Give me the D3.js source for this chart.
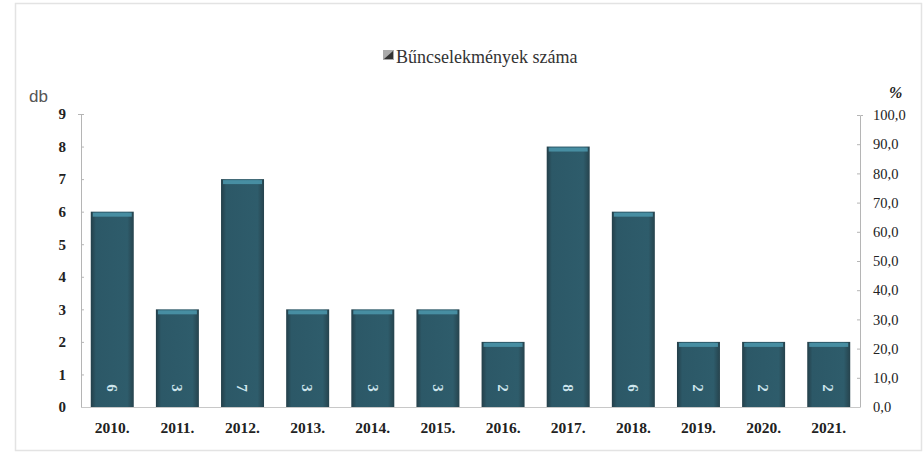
<!DOCTYPE html>
<html><head><meta charset="utf-8">
<script src="https://cdn.jsdelivr.net/npm/d3@7/dist/d3.min.js"></script>
<style>body{margin:0;background:#fff}svg{display:block}</style>
</head><body><svg id="c" width="924" height="454"></svg>
<script>
const categories = ["2010.","2011.","2012.","2013.","2014.","2015.","2016.","2017.","2018.","2019.","2020.","2021."];
const values = [6,3,7,3,3,3,2,8,6,2,2,2];
const leftTicks = [0,1,2,3,4,5,6,7,8,9];
const rightTicks = [0,10,20,30,40,50,60,70,80,90,100];
const seriesName = "Bűncselekmények száma";

const svg = d3.select("#c");
const serif = "'Liberation Serif','Times New Roman',serif";

// frame
svg.append("rect").attr("x",15.5).attr("y",3.5).attr("width",906).attr("height",447)
  .attr("fill","none").attr("stroke","#e3e3e3").attr("stroke-width",1.5);

const defs = svg.append("defs");
const g = defs.append("linearGradient").attr("id","bg").attr("x1",0).attr("x2",1);
g.append("stop").attr("offset","0%").attr("stop-color","#243f49");
g.append("stop").attr("offset","12%").attr("stop-color","#2c5867");
g.append("stop").attr("offset","85%").attr("stop-color","#2e5c6b");
g.append("stop").attr("offset","100%").attr("stop-color","#26434d");

const x = d3.scaleBand().domain(categories).range([81,860]).paddingInner(0.34).paddingOuter(0.15);
const y = d3.scaleLinear().domain([0,9]).range([407,114]);
const y2 = d3.scaleLinear().domain([0,100]).range([407,115]);

// left axis
const la = svg.append("g").attr("transform","translate(81,0)")
  .call(d3.axisLeft(y).tickValues(leftTicks).tickSize(3).tickPadding(12).tickFormat(d3.format("d")));
la.select(".domain").attr("stroke","#b5b5b5").attr("d","M-3,114.5H0.5V407.5");
la.selectAll(".tick line").attr("stroke","#b5b5b5").attr("x2",3).attr("x1",0);
la.selectAll("text").attr("font-family",serif).attr("font-weight","bold").attr("font-size",15).attr("fill","#222");

// right axis
const ra = svg.append("g").attr("transform","translate(860,0)")
  .call(d3.axisRight(y2).tickValues(rightTicks).tickSize(3).tickPadding(10)
    .tickFormat(d => d3.format(".1f")(d).replace(".",",")));
ra.select(".domain").attr("stroke","#b5b5b5").attr("d","M3,115.5H0.5V407.5");
ra.selectAll(".tick line").attr("stroke","#b5b5b5").attr("x1",-3).attr("x2",0);
ra.selectAll("text").attr("font-family",serif).attr("font-size",14.5).attr("fill","#222");

// baseline
svg.append("line").attr("x1",81).attr("x2",860).attr("y1",y(0)+0.5).attr("y2",y(0)+0.5)
  .attr("stroke","#c8c8c8").attr("stroke-width",1);

// bars
const bars = svg.append("g").selectAll("g").data(values).join("g");
bars.append("rect")
  .attr("x",(d,i)=>x(categories[i])).attr("width",x.bandwidth())
  .attr("y",d=>y(d)).attr("height",d=>y(0)-y(d)).attr("fill","url(#bg)");
bars.append("rect")
  .attr("x",(d,i)=>x(categories[i])+2).attr("width",x.bandwidth()-4)
  .attr("y",d=>y(d)+1).attr("height",4).attr("fill","#4a93a9").attr("opacity",0.9);
bars.append("text")
  .attr("transform",(d,i)=>`translate(${x(categories[i])+x.bandwidth()/2},388) rotate(90)`)
  .attr("text-anchor","middle").attr("dy","0.35em")
  .attr("font-family",serif).attr("font-weight","bold").attr("font-size",15).attr("fill","#cfe6ee")
  .text(d=>d);

// x labels
svg.append("g").selectAll("text").data(categories).join("text")
  .attr("x",d=>x(d)+x.bandwidth()/2).attr("y",433).attr("text-anchor","middle")
  .attr("font-family",serif).attr("font-weight","bold").attr("font-size",15.5).attr("fill","#222")
  .text(d=>d);

// unit labels
svg.append("text").attr("x",29).attr("y",102).attr("font-family","'Liberation Sans',Arial,sans-serif")
  .attr("font-size",17).attr("fill","#555").text("db");
svg.append("text").attr("x",889).attr("y",98).attr("font-family",serif).attr("font-weight","bold")
  .attr("font-style","italic").attr("font-size",16).attr("fill","#222").text("%");

// legend title
svg.append("rect").attr("x",383).attr("y",50).attr("width",11).attr("height",10).attr("fill","#aaa");
svg.append("path").attr("d","M384,59 L393,51 L393,59 Z").attr("fill","#333");
svg.append("text").attr("x",396).attr("y",63).attr("font-family",serif).attr("font-size",18)
  .attr("fill","#333").text(seriesName);
</script></body></html>
